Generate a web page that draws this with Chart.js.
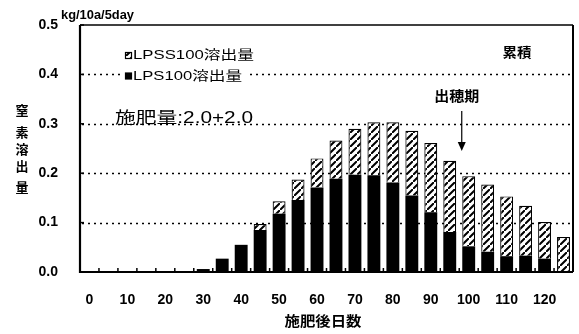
<!DOCTYPE html>
<html>
<head>
<meta charset="utf-8">
<script src="https://cdn.jsdelivr.net/npm/chart.js@4/dist/chart.umd.min.js"></script>
<style>
  html, body { margin: 0; padding: 0; background: #fff; }
  #wrap { width: 579px; height: 334px; }
</style>
</head>
<body>
<div id="wrap"><canvas id="c" width="579" height="334"></canvas></div>
<script>
// Days after fertilization (5-day intervals)
const days = [0, 5, 10, 15, 20, 25, 30, 35, 40, 45, 50, 55, 60, 65, 70, 75, 80, 85, 90, 95, 100, 105, 110, 115, 120, 125];
// Nitrogen released per 5 days (kg/10a/5day)
const lps100 = [0, 0, 0, 0, 0, 0, 0.006, 0.027, 0.055, 0.085, 0.118, 0.146, 0.171, 0.189, 0.197, 0.196, 0.181, 0.155, 0.121, 0.081, 0.052, 0.041, 0.032, 0.033, 0.027, 0];
const lpss100 = [0, 0, 0, 0, 0, 0, 0, 0, 0, 0.012, 0.025, 0.041, 0.059, 0.077, 0.093, 0.107, 0.122, 0.131, 0.140, 0.144, 0.142, 0.136, 0.121, 0.101, 0.074, 0.071];
// Y axis ticks and dotted guide lines
const yTicks = [0, 0.1, 0.2, 0.3, 0.4, 0.5];
const guideLines = [0.1, 0.2, 0.3, 0.4];
const seriesNames = ['LPS100溶出量', 'LPSS100溶出量'];
const yTitle = ['窒', '素', '溶', '出', '量'];
const xTitle = '施肥後日数';
const unitLabel = 'kg/10a/5day';
const doseLabel = '施肥量:2.0+2.0';
const cumLabel = '累積';
const headingLabel = '出穂期';
const headingDay = 95;

const LATIN = '"Liberation Sans", "Noto Sans CJK JP", sans-serif';
const CJK = '"Noto Sans CJK JP", "Liberation Sans", sans-serif';

// diagonal hatch fill
function makeHatch() {
  const n = 7;
  const t = document.createElement('canvas');
  t.width = n; t.height = n;
  const g = t.getContext('2d');
  g.fillStyle = '#fff';
  g.fillRect(0, 0, n, n);
  g.strokeStyle = '#000';
  g.lineWidth = 2;
  g.beginPath();
  g.moveTo(-1, n + 1); g.lineTo(n + 1, -1);
  g.moveTo(-n - 1, 1); g.lineTo(1, -n - 1);
  g.moveTo(n - 1, 2 * n + 1); g.lineTo(2 * n + 1, n - 1);
  g.stroke();
  return g.createPattern(t, 'repeat');
}
const hatch = makeHatch();

// text drawn to a given width (horizontal stretch), optional white backing
function txt(ctx, s, x, y, font, opts = {}) {
  ctx.save();
  ctx.font = font;
  ctx.textBaseline = opts.baseline || 'middle';
  ctx.textAlign = 'left';
  const w = ctx.measureText(s).width;
  const sx = opts.width ? opts.width / w : 1;
  const drawnW = w * sx;
  let left = x;
  if (opts.align === 'center') left = x - drawnW / 2;
  if (opts.align === 'right') left = x - drawnW;
  if (opts.bg) {
    ctx.fillStyle = '#fff';
    ctx.fillRect(left - 3, opts.bg[0], drawnW + 6, opts.bg[1]);
  }
  ctx.translate(left, y);
  ctx.scale(sx, 1);
  ctx.fillStyle = opts.color || '#000';
  ctx.fillText(s, 0, 0);
  ctx.restore();
}

const framePlugin = {
  id: 'frame',
  beforeDatasetsDraw(chart) {
    const { ctx, chartArea: a, scales: { y } } = chart;
    ctx.save();
    ctx.strokeStyle = '#000';
    ctx.lineWidth = 1.6;
    ctx.setLineDash([2, 4]);
    guideLines.forEach(v => {
      const py = Math.round(y.getPixelForValue(v)) + 0.5;
      ctx.beginPath();
      ctx.moveTo(a.left + 2, py);
      ctx.lineTo(a.right - 2, py);
      ctx.stroke();
    });
    ctx.restore();
  },
  afterDatasetsDraw(chart) {
    const { ctx, chartArea: a, scales: { x, y } } = chart;
    ctx.save();
    ctx.strokeStyle = '#000';
    ctx.setLineDash([]);
    // plot frame
    ctx.lineWidth = 1.5;
    ctx.beginPath();
    ctx.moveTo(a.left, a.top); ctx.lineTo(a.right, a.top);
    ctx.stroke();
    ctx.lineWidth = 2;
    ctx.beginPath();
    ctx.moveTo(a.right, a.top); ctx.lineTo(a.right, a.bottom);
    ctx.stroke();
    ctx.lineWidth = 2.2;
    ctx.beginPath();
    ctx.moveTo(a.left, a.top); ctx.lineTo(a.left, a.bottom);
    ctx.lineTo(a.right, a.bottom);
    ctx.stroke();
    // inward ticks
    ctx.lineWidth = 1.5;
    yTicks.forEach(v => {
      const py = y.getPixelForValue(v);
      ctx.beginPath(); ctx.moveTo(a.left, py); ctx.lineTo(a.left + 4, py); ctx.stroke();
    });
    for (let i = 1; i < days.length; i++) {
      const px = (x.getPixelForValue(i - 1) + x.getPixelForValue(i)) / 2;
      ctx.beginPath(); ctx.moveTo(px, a.bottom); ctx.lineTo(px, a.bottom - 4); ctx.stroke();
    }
    ctx.restore();
  },
  afterDraw(chart) {
    const { ctx, chartArea: a, scales: { x, y } } = chart;
    // unit
    txt(ctx, unitLabel, 61, 16, 'bold 12px ' + LATIN, { width: 73 });
    // vertical axis title
    const ys = [110.5, 132, 149.5, 166, 187];
    yTitle.forEach((c, i) => txt(ctx, c, 22, ys[i], 'bold 13px ' + CJK, { align: 'center' }));
    // horizontal axis title
    txt(ctx, xTitle, 323, 321, 'bold 14px ' + CJK, { align: 'center', width: 77 });
    // legend
    const rows = [
      { name: seriesNames[1], fill: hatch, y: 55.5, w: 121 },
      { name: seriesNames[0], fill: '#000', y: 76, w: 109 }
    ];
    rows.forEach(r => {
      ctx.save();
      ctx.fillStyle = '#fff';
      ctx.fillRect(123, r.y - 8, r.w + 14, 16);
      ctx.fillStyle = r.fill;
      ctx.fillRect(125.5, r.y - 3, 6, 6);
      ctx.strokeStyle = '#000';
      ctx.lineWidth = 1.2;
      ctx.strokeRect(125.5, r.y - 3, 6, 6);
      ctx.restore();
      txt(ctx, r.name, 133, r.y, '13px ' + LATIN, { width: r.w });
    });
    // dose annotation on the 0.3 guide
    txt(ctx, doseLabel, 115, 118.5, '16px ' + LATIN, { width: 138, bg: [109, 13] });
    // cumulative label
    txt(ctx, cumLabel, 517, 52.5, 'bold 13px ' + CJK, { align: 'center', width: 29 });
    // heading stage label and arrow
    const hx = x.getPixelForValue(days.indexOf(headingDay)) + 12;
    txt(ctx, headingLabel, hx - 5, 96, 'bold 14px ' + CJK, { align: 'center', width: 45 });
    ctx.save();
    ctx.strokeStyle = '#000';
    ctx.fillStyle = '#000';
    ctx.lineWidth = 1.2;
    ctx.beginPath();
    ctx.moveTo(hx, 111); ctx.lineTo(hx, 143);
    ctx.stroke();
    ctx.beginPath();
    ctx.moveTo(hx - 4, 142); ctx.lineTo(hx + 4, 142); ctx.lineTo(hx, 151); ctx.closePath();
    ctx.fill();
    ctx.restore();
  }
};

new Chart(document.getElementById('c'), {
  type: 'bar',
  data: {
    labels: days,
    datasets: [
      { label: seriesNames[0], data: lps100, backgroundColor: '#000', borderWidth: 0 },
      { label: seriesNames[1], data: lpss100, backgroundColor: hatch, borderColor: '#000', borderWidth: 1.2 }
    ]
  },
  options: {
    responsive: false,
    animation: false,
    devicePixelRatio: 1,
    barPercentage: 0.68,
    categoryPercentage: 1.0,
    layout: { padding: { top: 25, right: 6, left: 0, bottom: 0 } },
    plugins: { legend: { display: false }, tooltip: { enabled: false } },
    scales: {
      x: {
        stacked: true,
        offset: true,
        grid: { display: false },
        border: { display: false },
        afterFit: s => { s.height = 62; },
        ticks: {
          autoSkip: false,
          maxRotation: 0,
          padding: 12,
          color: '#000',
          font: { family: LATIN, size: 14, weight: 'bold' },
          callback: (v, i) => (days[i] % 10 === 0 ? String(days[i]) : '')
        }
      },
      y: {
        stacked: true,
        min: 0,
        max: 0.5,
        grid: { display: false },
        border: { display: false },
        afterFit: s => { s.width = 80; },
        afterBuildTicks: s => { s.ticks = yTicks.map(v => ({ value: v })); },
        ticks: {
          padding: 14,
          color: '#000',
          font: { family: LATIN, size: 14, weight: 'bold' },
          callback: v => v.toFixed(1)
        }
      }
    }
  },
  plugins: [framePlugin]
});
</script>
</body>
</html>
